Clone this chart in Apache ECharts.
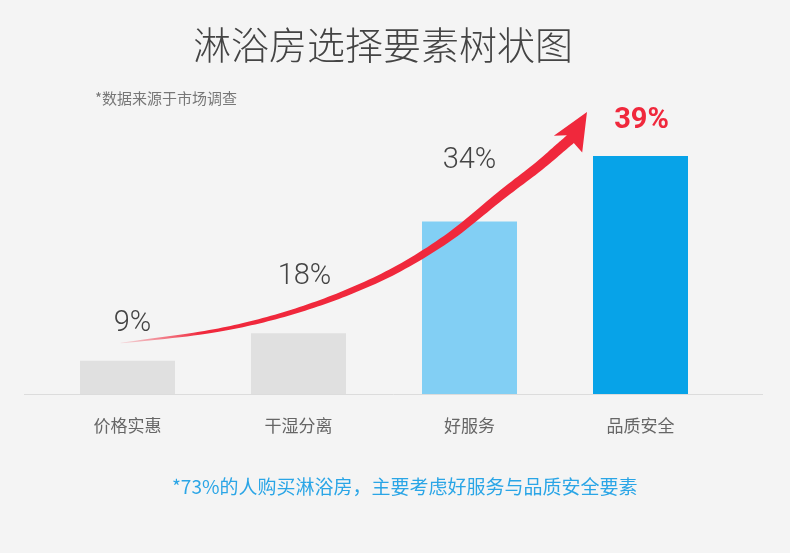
<!DOCTYPE html>
<html>
<head>
<meta charset="utf-8">
<script src="https://cdn.jsdelivr.net/npm/echarts@6/dist/echarts.min.js"></script>
<style>
  html, body { margin: 0; padding: 0; background: #f4f4f4; }
  #main { width: 790px; height: 553px; }
</style>
</head>
<body>
<div id="main"></div>
<script>
// categories and values
var categories = ["价格实惠", "干湿分离", "好服务", "品质安全"];
var shares = [9, 18, 34, 39];            // printed percentages
var barHeights = [14, 25.5, 72.5, 100];  // drawn bar heights (bars are not to scale)

// label layout: lift above the bar, sideways nudge
var labelGaps = [22, 42, 46, 21];
var labelShift = [5, 6, 0, 1];

// red trend arrow, in the same units as the bars (x = category position)
var trendX = [-0.04, 0.42, 0.72, 1.01, 1.30, 1.59, 1.89, 2.18, 2.40, 2.53, 2.59];
var trendY = [21.4, 25.5, 29.7, 35.5, 43.1, 52.9, 66.4, 83.2, 95.4, 103.4, 107.1];
var arrowTip = [2.687, 118.5];
var arrowBack = [2.576, 105.0];

var chart = echarts.init(document.getElementById("main"));

// UTILS FUNCTION
function catmull(p0, p1, p2, p3, t) {
    var t2 = t * t, t3 = t2 * t;
    return [0, 1].map(function (k) {
        return 0.5 * ((2 * p1[k]) + (-p0[k] + p2[k]) * t +
            (2 * p0[k] - 5 * p1[k] + 4 * p2[k] - p3[k]) * t2 +
            (-p0[k] + 3 * p1[k] - 3 * p2[k] + p3[k]) * t3);
    });
}

function renderArrow(params, api) {
    var pts = trendX.map(function (x, i) {
        return api.coord([x, trendY[i]]);
    });
    var n = pts.length;
    var dense = [];
    for (var i = 0; i < n - 1; i++) {
        var p0 = pts[Math.max(i - 1, 0)], p1 = pts[i], p2 = pts[i + 1], p3 = pts[Math.min(i + 2, n - 1)];
        for (var s = 0; s < 12; s++) {
            dense.push(catmull(p0, p1, p2, p3, s / 12));
        }
    }
    dense.push(pts[n - 1]);

    // cumulative length for taper
    var lens = [0];
    for (var j = 1; j < dense.length; j++) {
        var dx = dense[j][0] - dense[j - 1][0], dy = dense[j][1] - dense[j - 1][1];
        lens.push(lens[j - 1] + Math.sqrt(dx * dx + dy * dy));
    }
    var total = lens[lens.length - 1];

    var left = [], right = [];
    dense.forEach(function (p, k) {
        var a = dense[Math.max(k - 1, 0)], b = dense[Math.min(k + 1, dense.length - 1)];
        var tx = b[0] - a[0], ty = b[1] - a[1];
        var tl = Math.sqrt(tx * tx + ty * ty) || 1;
        var nx = -ty / tl, ny = tx / tl;
        var w = 0.3 + 4.9 * Math.pow(lens[k] / total, 0.75);
        left.push([p[0] + nx * w, p[1] + ny * w]);
        right.push([p[0] - nx * w, p[1] - ny * w]);
    });

    // arrow head: tip and the middle of its back edge
    var tip = api.coord(arrowTip);
    var back = api.coord(arrowBack);
    var hx = tip[0] - back[0], hy = tip[1] - back[1];
    var hl = Math.sqrt(hx * hx + hy * hy);
    var nx2 = -hy / hl, ny2 = hx / hl;
    var wing = 16.5;
    var head = [
        [back[0] + nx2 * wing, back[1] + ny2 * wing],
        tip,
        [back[0] - nx2 * wing, back[1] - ny2 * wing]
    ];

    var poly = left.concat(head).concat(right.reverse());
    var start = pts[0];

    return {
        type: "polygon",
        shape: { points: poly },
        style: {
            fill: new echarts.graphic.LinearGradient(start[0], start[1], start[0] + 80, start[1] - 15, [
                { offset: 0, color: "rgba(240,40,60,0.12)" },
                { offset: 1, color: "#f0283c" }
            ], true)
        }
    };
}

var option = {
    backgroundColor: "#f4f4f4",
    title: [
        {
            text: "淋浴房选择要素树状图",
            left: 188,
            top: 21,
            textStyle: { fontFamily: "Noto Sans CJK SC", fontSize: 38, fontWeight: 300, color: "#444" }
        },
        {
            text: "*数据来源于市场调查",
            left: 90,
            top: 86,
            textStyle: { fontFamily: "Noto Sans CJK SC", fontSize: 15, fontWeight: "normal", color: "#777" }
        },
        {
            text: "*73%的人购买淋浴房，主要考虑好服务与品质安全要素",
            left: 167,
            top: 472,
            textStyle: { fontFamily: "Noto Sans CJK SC", fontSize: 19, fontWeight: "normal", color: "#2aa5e6" }
        }
    ],
    grid: { left: 42, right: 64, top: 37, bottom: 159 },
    xAxis: [
        {
            type: "category",
            data: categories,
            axisLine: { show: false },
            axisTick: { show: false },
            axisLabel: { margin: 23, fontSize: 17, color: "#666", fontFamily: "Noto Sans CJK SC" }
        },
        { type: "value", min: -0.5, max: 3.5, show: false }
    ],
    yAxis: { type: "value", min: 0, max: 150, show: false },
    graphic: [
        {
            type: "line",
            shape: { x1: 24, y1: 394.5, x2: 763, y2: 394.5 },
            style: { stroke: "#dcdcdc", lineWidth: 1 },
            z: 1
        }
    ],
    series: [
        {
            type: "bar",
            barWidth: 95,
            z: 2,
            data: barHeights.map(function (v, i) {
                var colors = ["#e0e0e0", "#e0e0e0", "#82cff4", "#07a3e8"];
                var last = i === barHeights.length - 1;
                return {
                    value: v,
                    itemStyle: { color: colors[i] },
                    label: {
                        distance: labelGaps[i],
                        offset: [labelShift[i], 0],
                        color: last ? "#f0283c" : "#444",
                        fontWeight: last ? "bold" : 300,
                        fontSize: 29
                    }
                };
            }),
            label: {
                show: true,
                position: "top",
                fontFamily: "Roboto",
                formatter: function (p) {
                    return shares[p.dataIndex] + "%";
                }
            }
        },
        {
            type: "custom",
            xAxisIndex: 1,
            yAxisIndex: 0,
            z: 5,
            silent: true,
            clip: false,
            data: [[0, 0]],
            renderItem: renderArrow
        }
    ]
};

chart.setOption(option);

window.addEventListener("resize", function () {
    chart.resize();
});
</script>
</body>
</html>
